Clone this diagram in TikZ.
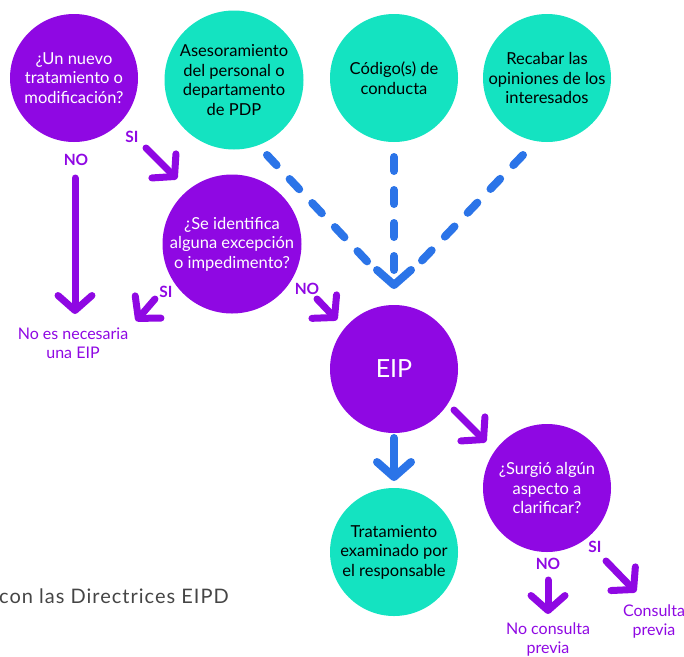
\documentclass[tikz,border=0pt]{standalone}
\usepackage{fontspec}
\setmainfont{Lato}
\newfontfamily\capfont{Lato}[LetterSpace=5]
\usetikzlibrary{arrows.meta}
\definecolor{purp}{HTML}{8F08E3}
\definecolor{tealc}{HTML}{14E3C1}
\definecolor{blu}{HTML}{2B74E8}
\definecolor{capgray}{HTML}{454545}
\begin{document}
\begin{tikzpicture}[x=1pt,y=-1pt,
  circ/.style={circle,inner sep=0pt,align=center,font=\fontsize{16.5}{19.5}\selectfont},
  pc/.style={circ,fill=purp,text=white},
  tc/.style={circ,fill=tealc,text=black},
  parr/.style={draw=purp,line width=7pt,line cap=round,-{Straight Barb[length=15pt,width=34pt,round]}},
  barr/.style={draw=blu,line width=8pt,line cap=round,-{Straight Barb[length=15pt,width=34pt,round]}},
  bdash/.style={draw=blu,line width=8pt,line cap=round,dash pattern=on 14pt off 19pt},
  lbl/.style={text=purp,font=\fontsize{15.5}{17}\selectfont\bfseries,inner sep=0pt},
  outtxt/.style={text=purp,align=center,inner sep=0pt,font=\fontsize{16}{19}\selectfont}
]
\useasboundingbox (0,0) rectangle (684,656);
% circles
\node[pc,minimum size=128pt] (nuevo) at (74,78) {¿Un nuevo\\tratamiento o\\modificación?};
\node[tc,minimum size=139pt] (ases) at (234,80) {Asesoramiento\\del personal o\\departamento\\de PDP};
\node[tc,minimum size=128pt] (cod) at (394,78) {Código(s) de\\conducta};
\node[tc,minimum size=128pt] (rec) at (547,78) {Recabar las\\opiniones de los\\interesados};
\node[pc,minimum size=139pt] (seid) at (232,244) {¿Se identifica\\alguna excepción\\o impedimento?};
\node[pc,minimum size=128pt,font=\fontsize{25}{28}\selectfont] (eip) at (394,369) {EIP};
\node[pc,minimum size=128pt] (surg) at (547,488) {¿Surgió algún\\aspecto a\\clarificar?};
\node[tc,minimum size=128pt] (trat) at (394,552) {Tratamiento\\examinado por\\el responsable};
% outcome texts
\node[outtxt] (noeip) at (73,343) {No es necesaria\\una EIP};
\node[outtxt] (nocons) at (548,639) {No consulta\\previa};
\node[outtxt] (cons) at (654,621) {Consulta\\previa};
\node[anchor=base west,inner sep=0pt,text=capgray,font=\capfont\fontsize{20}{22}\selectfont] (cap) at (-1,603) {con las Directrices EIPD};
% labels
\node[lbl] (si1) at (132,137) {SI};
\node[lbl] (no1) at (76,160) {NO};
\node[lbl] (si2) at (166,292) {SI};
\node[lbl] (no2) at (307,289) {NO};
\node[lbl] (no3) at (548,564) {NO};
\node[lbl] (si3) at (595,547) {SI};
% arrow end points
\coordinate (a1s) at (146,148); \coordinate (a1e) at (177,179);
\coordinate (a2s) at (75,178);  \coordinate (a2e) at (75,314);
\coordinate (a3s) at (155,299); \coordinate (a3e) at (136,321);
\coordinate (a4s) at (317,299); \coordinate (a4e) at (337,320);
\coordinate (a5s) at (454,410); \coordinate (a5e) at (486,442);
\coordinate (a6s) at (548,580); \coordinate (a6e) at (548,614);
\coordinate (a7s) at (606,561); \coordinate (a7e) at (636,592);
\coordinate (b1s) at (394,438); \coordinate (b1e) at (394,481);
\coordinate (d1s) at (267,155); \coordinate (d1e) at (379,274);
\coordinate (d2s) at (394,157); \coordinate (d2e) at (394,289);
\coordinate (d3s) at (523,155); \coordinate (d3e) at (409,274);
% purple arrows
\draw[parr] (a1s) -- (a1e);
\draw[parr] (a2s) -- (a2e);
\draw[parr] (a3s) -- (a3e);
\draw[parr] (a4s) -- (a4e);
\draw[parr] (a5s) -- (a5e);
\draw[parr] (a6s) -- (a6e);
\draw[parr] (a7s) -- (a7e);
% blue arrows
\draw[barr] (b1s) -- (b1e);
\draw[bdash] (d1s) -- (d1e);
\draw[bdash] (d3s) -- (d3e);
\draw[bdash,-{Straight Barb[length=15pt,width=34pt,round]}] (d2s) -- (d2e);
\end{tikzpicture}
\end{document}
